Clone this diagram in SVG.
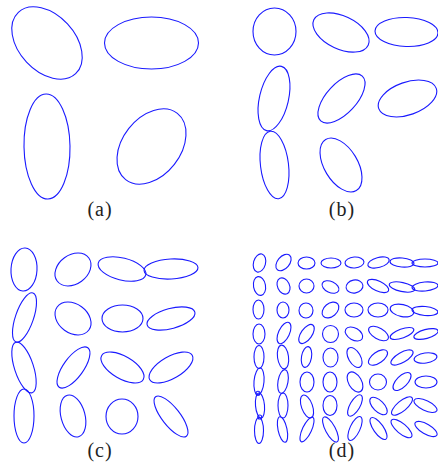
<svg xmlns="http://www.w3.org/2000/svg" width="438" height="463" viewBox="0 0 438 463">
<style>
ellipse, circle { fill: none; stroke: #1a1aff; stroke-width: 1.1; }
text { font-family: "Liberation Serif", "DejaVu Serif", serif; font-size: 20px; letter-spacing: 1px; fill: #222; text-anchor: middle; }
</style>
<rect width="438" height="463" fill="#fff"/>
<g id="panel-a">
  <ellipse cx="47" cy="43" rx="42" ry="28" transform="rotate(47 47 43)"/>
  <ellipse cx="151.5" cy="43" rx="47" ry="26"/>
  <ellipse cx="47" cy="146.5" rx="23" ry="52.5" transform="rotate(-1 47 146.5)"/>
  <ellipse cx="151.5" cy="146.5" rx="42" ry="29" transform="rotate(-52 151.5 146.5)"/>
  <text x="100" y="216">(a)</text>
</g>
<g id="panel-b">
  <ellipse cx="274.5" cy="31.5" rx="21.5" ry="23.5"/>
  <ellipse cx="341" cy="32.5" rx="30" ry="16.5" transform="rotate(25 341 32.5)"/>
  <ellipse cx="406.5" cy="32" rx="31.5" ry="14.5" transform="rotate(2 406.5 32)"/>
  <ellipse cx="274" cy="98.5" rx="33" ry="14.5" transform="rotate(-77 274 98.5)"/>
  <ellipse cx="341.5" cy="98.5" rx="30.5" ry="15" transform="rotate(-47 341.5 98.5)"/>
  <ellipse cx="407.5" cy="98.5" rx="30.5" ry="16.3" transform="rotate(-19.5 407.5 98.5)"/>
  <ellipse cx="274.5" cy="165" rx="34" ry="14" transform="rotate(83 274.5 165)"/>
  <ellipse cx="341" cy="165" rx="29.8" ry="16.7" transform="rotate(59 341 165)"/>
  <text x="342" y="216">(b)</text>
</g>
<g id="panel-c">
  <ellipse cx="24" cy="269.5" rx="21.5" ry="13" transform="rotate(-87 24 269.5)"/>
  <ellipse cx="73" cy="269.5" rx="19.6" ry="14.5" transform="rotate(-36 73 269.5)"/>
  <ellipse cx="122" cy="269" rx="24.5" ry="11" transform="rotate(14 122 269)"/>
  <ellipse cx="171" cy="269" rx="27" ry="10" transform="rotate(-3 171 269)"/>
  <ellipse cx="24.5" cy="317.5" rx="26" ry="9" transform="rotate(-71 24.5 317.5)"/>
  <ellipse cx="73" cy="318.5" rx="19.6" ry="14.5" transform="rotate(36 73 318.5)"/>
  <ellipse cx="122.5" cy="318.5" rx="20.5" ry="13.5"/>
  <ellipse cx="171" cy="318.5" rx="24.7" ry="10" transform="rotate(-15 171 318.5)"/>
  <ellipse cx="24" cy="367.5" rx="26.5" ry="9.5" transform="rotate(72 24 367.5)"/>
  <ellipse cx="73.5" cy="367.5" rx="24.4" ry="10" transform="rotate(-54 73.5 367.5)"/>
  <ellipse cx="122.5" cy="367.5" rx="24" ry="11.3" transform="rotate(30 122.5 367.5)"/>
  <ellipse cx="171" cy="367.5" rx="24.5" ry="11" transform="rotate(-30 171 367.5)"/>
  <ellipse cx="24" cy="416" rx="10" ry="27"/>
  <ellipse cx="73" cy="416" rx="21.5" ry="12" transform="rotate(75 73 416)"/>
  <ellipse cx="122" cy="416.5" rx="16" ry="17.5"/>
  <ellipse cx="171" cy="416.5" rx="25" ry="9" transform="rotate(52 171 416.5)"/>
  <text x="100" y="457">(c)</text>
</g>
<g id="panel-d">
  <ellipse cx="259.5" cy="263" rx="9.3" ry="6" transform="rotate(-75 259.5 263)"/>
  <ellipse cx="283.5" cy="262.5" rx="9.5" ry="6" transform="rotate(-50 283.5 262.5)"/>
  <ellipse cx="306.5" cy="263" rx="8.5" ry="6"/>
  <ellipse cx="331" cy="263" rx="10" ry="5"/>
  <ellipse cx="354.5" cy="262.5" rx="9.5" ry="5.5" transform="rotate(-4 354.5 262.5)"/>
  <ellipse cx="378.5" cy="262.5" rx="11" ry="5" transform="rotate(-15 378.5 262.5)"/>
  <ellipse cx="402" cy="262.5" rx="12" ry="4.5" transform="rotate(5 402 262.5)"/>
  <ellipse cx="425" cy="263" rx="13" ry="4"/>

  <ellipse cx="259.5" cy="286" rx="9.5" ry="6" transform="rotate(80 259.5 286)"/>
  <ellipse cx="283.5" cy="286" rx="8.5" ry="6" transform="rotate(65 283.5 286)"/>
  <ellipse cx="306.5" cy="286" rx="7.5" ry="7"/>
  <ellipse cx="330.5" cy="287" rx="9" ry="5.5" transform="rotate(25 330.5 287)"/>
  <ellipse cx="354.5" cy="286.5" rx="8.5" ry="6.5" transform="rotate(-10 354.5 286.5)"/>
  <ellipse cx="378" cy="286" rx="11.5" ry="5" transform="rotate(25 378 286)"/>
  <ellipse cx="402" cy="287" rx="13" ry="4.5" transform="rotate(12 402 287)"/>
  <ellipse cx="425" cy="286.5" rx="13" ry="4.5" transform="rotate(-5 425 286.5)"/>

  <ellipse cx="258.5" cy="309.5" rx="5.5" ry="9.5"/>
  <ellipse cx="283" cy="310" rx="6" ry="8"/>
  <ellipse cx="306" cy="310.5" rx="7" ry="7.5"/>
  <ellipse cx="330.5" cy="310" rx="9.5" ry="6.5" transform="rotate(-40 330.5 310)"/>
  <ellipse cx="354" cy="310" rx="9" ry="7"/>
  <ellipse cx="378" cy="310" rx="10" ry="7"/>
  <ellipse cx="402" cy="310.5" rx="12" ry="6" transform="rotate(12 402 310.5)"/>
  <ellipse cx="425" cy="311" rx="13" ry="4.5" transform="rotate(5 425 311)"/>

  <ellipse cx="259" cy="334" rx="6" ry="10"/>
  <ellipse cx="284" cy="333" rx="11.5" ry="5.5" transform="rotate(-65 284 333)"/>
  <ellipse cx="306.5" cy="334" rx="11" ry="5.5" transform="rotate(-55 306.5 334)"/>
  <ellipse cx="330.5" cy="334" rx="8" ry="8.5"/>
  <ellipse cx="354" cy="334" rx="9.5" ry="6" transform="rotate(30 354 334)"/>
  <ellipse cx="378.5" cy="333.5" rx="11" ry="5.5" transform="rotate(30 378.5 333.5)"/>
  <ellipse cx="402" cy="333.5" rx="12.5" ry="4.5" transform="rotate(-20 402 333.5)"/>
  <ellipse cx="426" cy="334" rx="12.5" ry="4.5" transform="rotate(-15 426 334)"/>

  <ellipse cx="259" cy="357" rx="5" ry="11.5"/>
  <ellipse cx="283" cy="357" rx="12" ry="5.5" transform="rotate(82 283 357)"/>
  <ellipse cx="306.5" cy="357" rx="10.5" ry="5" transform="rotate(-80 306.5 357)"/>
  <ellipse cx="330.5" cy="357.5" rx="7.5" ry="9.5"/>
  <ellipse cx="354.5" cy="357.5" rx="11" ry="6" transform="rotate(60 354.5 357.5)"/>
  <ellipse cx="378" cy="357.5" rx="11" ry="5.5" transform="rotate(-35 378 357.5)"/>
  <ellipse cx="402" cy="357.5" rx="12.5" ry="5" transform="rotate(-30 402 357.5)"/>
  <ellipse cx="425.5" cy="358" rx="11.5" ry="5" transform="rotate(-8 425.5 358)"/>

  <ellipse cx="259" cy="381.5" rx="5" ry="13.5" transform="rotate(5 259 381.5)"/>
  <ellipse cx="283" cy="381.5" rx="12" ry="5" transform="rotate(-80 283 381.5)"/>
  <ellipse cx="307" cy="382" rx="7" ry="10"/>
  <ellipse cx="330" cy="382" rx="7" ry="10"/>
  <ellipse cx="355" cy="382" rx="11" ry="6.5" transform="rotate(60 355 382)"/>
  <ellipse cx="378" cy="382" rx="8.5" ry="8"/>
  <ellipse cx="402" cy="381.5" rx="11.5" ry="5.5" transform="rotate(-45 402 381.5)"/>
  <ellipse cx="426" cy="382" rx="11" ry="6"/>

  <ellipse cx="260" cy="405.5" rx="4.5" ry="12.5" transform="rotate(-5 260 405.5)"/>
  <ellipse cx="283" cy="405.5" rx="5" ry="12.5"/>
  <ellipse cx="307" cy="406.5" rx="12" ry="5.5" transform="rotate(70 307 406.5)"/>
  <ellipse cx="330" cy="405.5" rx="7" ry="10"/>
  <ellipse cx="355" cy="405.5" rx="12" ry="5" transform="rotate(-60 355 405.5)"/>
  <ellipse cx="378.5" cy="406" rx="11" ry="5.5" transform="rotate(45 378.5 406)"/>
  <ellipse cx="402" cy="406" rx="13" ry="5" transform="rotate(-40 402 406)"/>
  <ellipse cx="425.5" cy="405.5" rx="12.5" ry="5" transform="rotate(25 425.5 405.5)"/>

  <ellipse cx="259" cy="430.5" rx="4.5" ry="13"/>
  <ellipse cx="282.5" cy="429.5" rx="13" ry="4.5" transform="rotate(78 282.5 429.5)"/>
  <ellipse cx="307" cy="429.5" rx="13.5" ry="4.5" transform="rotate(-65 307 429.5)"/>
  <ellipse cx="330.5" cy="429.5" rx="14" ry="5" transform="rotate(62 330.5 429.5)"/>
  <ellipse cx="355" cy="428.5" rx="13" ry="5" transform="rotate(-65 355 428.5)"/>
  <ellipse cx="378.5" cy="428.5" rx="13" ry="5" transform="rotate(55 378.5 428.5)"/>
  <ellipse cx="401.5" cy="428.5" rx="13" ry="5" transform="rotate(40 401.5 428.5)"/>
  <ellipse cx="426" cy="429" rx="12.5" ry="5" transform="rotate(30 426 429)"/>

  <circle cx="258" cy="393.3" r="2"/>
  <circle cx="259.7" cy="417" r="2"/>
  <text x="342" y="457">(d)</text>
</g>
</svg>
